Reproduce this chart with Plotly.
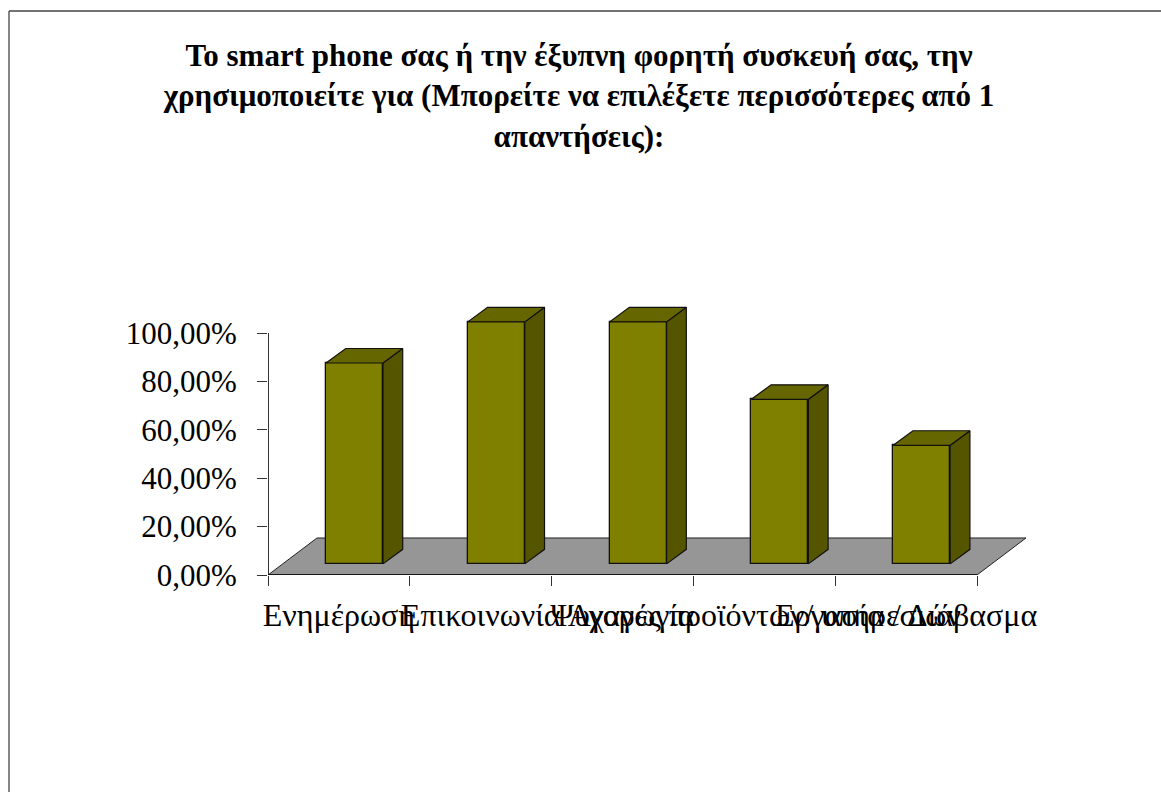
import plotly.graph_objects as go

# Chart content
title_lines = [
    "Το smart phone σας ή την έξυπνη φορητή συσκευή σας, την",
    "χρησιμοποιείτε για (Μπορείτε να επιλέξετε περισσότερες από 1",
    "απαντήσεις):",
]
categories = [
    "Ενημέρωση",
    "Επικοινωνία",
    "Ψυχαγωγία",
    "Αγορές προϊόντων/ υπηρεσιών",
    "Εργασία / Διάβασμα",
]
values = [83, 100, 100, 68, 49]
y_ticks = [0, 20, 40, 60, 80, 100]
y_labels = ["0,00%", "20,00%", "40,00%", "60,00%", "80,00%", "100,00%"]

# Pseudo-3D projection, expressed in axis units
FLOOR_DX, FLOOR_DY = 0.3455, 15.3      # back edge of the floor relative to the front edge
BASE_DX, BASE_DY = 0.11, 4.6           # front of each column relative to the floor front
BAR_DX, BAR_DY = 0.139, 6.0            # depth of a column
BAR_WIDTH = 0.402

FRONT, SIDE, TOP = "#808000", "#555500", "#666600"
FLOOR = "#969696"
EDGE = "#111111"
SERIF = "Liberation Serif"

n = len(categories)
centers = [i + 0.5 for i in range(n)]

# Plot area in pixels; it runs past the axes so the projected faces stay visible
W, H = 1161, 792
L, R, T, B = 268, 111, 290, 217
PX_PER_CAT = 141.8
PX_PER_PCT = 2.42
plot_w, plot_h = W - L - R, H - T - B
x_max = plot_w / PX_PER_CAT
y_max = plot_h / PX_PER_PCT

fig = go.Figure()

# Front faces
fig.add_trace(go.Bar(
    x=[c + BASE_DX for c in centers],
    y=values,
    base=BASE_DY,
    width=BAR_WIDTH,
    marker=dict(color=FRONT, line=dict(color=EDGE, width=1.3)),
    hoverinfo="skip",
    showlegend=False,
))

# Side and top faces of each column
for c, v in zip(centers, values):
    left = c + BASE_DX - BAR_WIDTH / 2
    right = c + BASE_DX + BAR_WIDTH / 2
    bottom = BASE_DY
    top = BASE_DY + v
    fig.add_trace(go.Scatter(
        x=[right, right + BAR_DX, right + BAR_DX, right, right],
        y=[bottom, bottom + BAR_DY, top + BAR_DY, top, bottom],
        mode="lines", fill="toself", fillcolor=SIDE,
        line=dict(color=EDGE, width=1.2),
        hoverinfo="skip", showlegend=False,
    ))
    fig.add_trace(go.Scatter(
        x=[left, left + BAR_DX, right + BAR_DX, right, left],
        y=[top, top + BAR_DY, top + BAR_DY, top, top],
        mode="lines", fill="toself", fillcolor=TOP,
        line=dict(color=EDGE, width=1.2),
        hoverinfo="skip", showlegend=False,
    ))

# Grey floor beneath the columns
floor_path = (
    f"M 0 0 L {n} 0 L {n + FLOOR_DX} {FLOOR_DY} L {FLOOR_DX} {FLOOR_DY} Z"
)
shapes = [
    dict(type="path", path=floor_path, xref="x", yref="y", layer="below",
         fillcolor=FLOOR, line=dict(color="#222222", width=1)),
    # Axis lines stop at the last tick, short of the plot area edges
    dict(type="line", xref="x", yref="y", x0=0, x1=n, y0=0, y1=0,
         line=dict(color="black", width=1.6)),
    dict(type="line", xref="x", yref="y", x0=0, x1=0, y0=0, y1=100,
         line=dict(color="black", width=1.6)),
]

# Outer frame: left and top rules only
frame_x = (9 - L) / plot_w
frame_y = (H - B - 11) / plot_h
shapes += [
    dict(type="line", xref="paper", yref="paper", x0=frame_x, x1=frame_x, y0=-B / plot_h, y1=frame_y,
         line=dict(color="#444444", width=1.3)),
    dict(type="line", xref="paper", yref="paper", x0=frame_x, x1=(W - L) / plot_w, y0=frame_y, y1=frame_y,
         line=dict(color="#444444", width=1.3)),
]

fig.update_layout(
    width=W, height=H, autosize=False,
    margin=dict(l=L, r=R, t=T, b=B, pad=0),
    paper_bgcolor="white", plot_bgcolor="rgba(0,0,0,0)",
    shapes=shapes,
    bargap=0,
    showlegend=False,
    font=dict(family=SERIF, color="black"),
    title=dict(
        text="<b>" + "<br>".join(title_lines) + "</b>",
        font=dict(family=SERIF, size=31, color="black"),
        x=(579 - L) / plot_w, xanchor="center", xref="paper",
        y=1 - 66 / H, yanchor="top", yref="container",
    ),
    xaxis=dict(
        range=[0, x_max], tickmode="array", tickvals=centers, ticktext=categories,
        tickangle=0, ticks="", showgrid=False, zeroline=False, showline=False,
        tickfont=dict(family=SERIF, size=32, color="black"),
        ticklabelstandoff=18,
        minor=dict(tickmode="array", tickvals=list(range(n + 1)), ticks="outside",
                   ticklen=10, tickwidth=1, tickcolor="#333333", showgrid=False),
    ),
    yaxis=dict(
        range=[0, y_max], tickmode="array", tickvals=y_ticks, ticktext=y_labels,
        ticks="outside", ticklen=10, tickwidth=1, tickcolor="#333333",
        showgrid=False, zeroline=False, showline=False,
        tickfont=dict(family=SERIF, size=31, color="black"),
        ticklabelstandoff=14,
    ),
)

fig.write_html("out.html")
